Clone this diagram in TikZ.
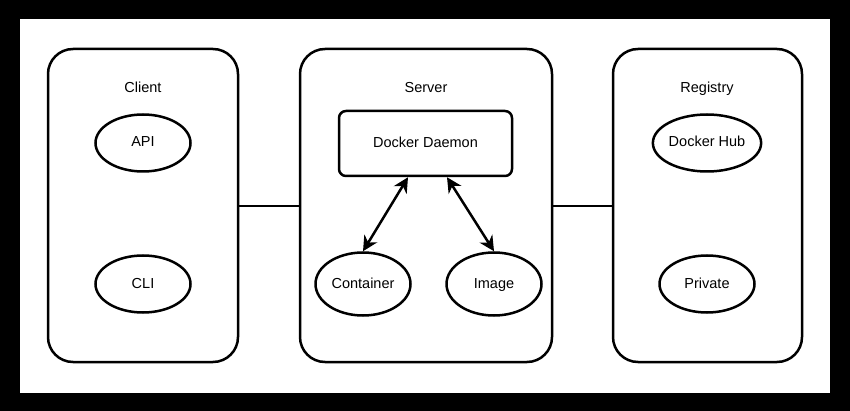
\documentclass[tikz,border=0pt]{standalone}
\usepackage{fontspec}
\setmainfont{Liberation Sans}
\usetikzlibrary{shapes.geometric,arrows.meta}
\begin{document}
\begin{tikzpicture}[x=1pt,y=-1pt,
  box/.style={draw,line width=2.5pt,rounded corners=25pt},
  ell/.style={draw,ellipse,line width=2.5pt,minimum width=95pt,minimum height=57pt,inner sep=0pt,font=\fontsize{14.5}{16}\selectfont,text height=10.5pt,text depth=2.5pt},
  lbl/.style={font=\fontsize{14.5}{16}\selectfont,text height=10.5pt,text depth=2.5pt},
  arr/.style={line width=2.5pt,{Stealth[length=15pt,width=15pt]}-{Stealth[length=15pt,width=15pt]}},
  con/.style={line width=2pt}]
\fill[black] (0,0) rectangle (850,411);
\fill[white] (20,19) rectangle (830,393);
\useasboundingbox (0,0) rectangle (850,411);
\draw[box] (48,49) rectangle (238,362);
\draw[box] (300,49) rectangle (552,362);
\draw[box] (613,49) rectangle (802,362);
\coordinate (cr) at (238,206); \coordinate (sl) at (300,206);
\coordinate (sr) at (552,206); \coordinate (rl) at (613,206);
\draw[con] (cr) -- (sl);
\draw[con] (sr) -- (rl);
\node[lbl] (client) at (143,89) {Client};
\node[lbl] (server) at (426,89) {Server};
\node[lbl] (registry) at (707,89) {Registry};
\node[ell] (api) at (143,143) {API};
\node[ell] (cli) at (143,284) {CLI};
\node[ell] (hub) at (707,143) {Docker Hub};
\node[ell] (priv) at (707,284) {Private};
\node[ell,minimum height=63pt] (cont) at (363,284) {Container};
\node[ell,minimum height=63pt] (img) at (494,284) {Image};
\node[draw,line width=2.5pt,rounded corners=7pt,minimum width=173pt,minimum height=65pt,lbl] (dd) at (425.5,143.5) {Docker Daemon};
\draw[arr] (dd.south -| 408,0) -- (cont.north);
\draw[arr] (dd.south -| 447,0) -- (img.north);
\end{tikzpicture}
\end{document}
